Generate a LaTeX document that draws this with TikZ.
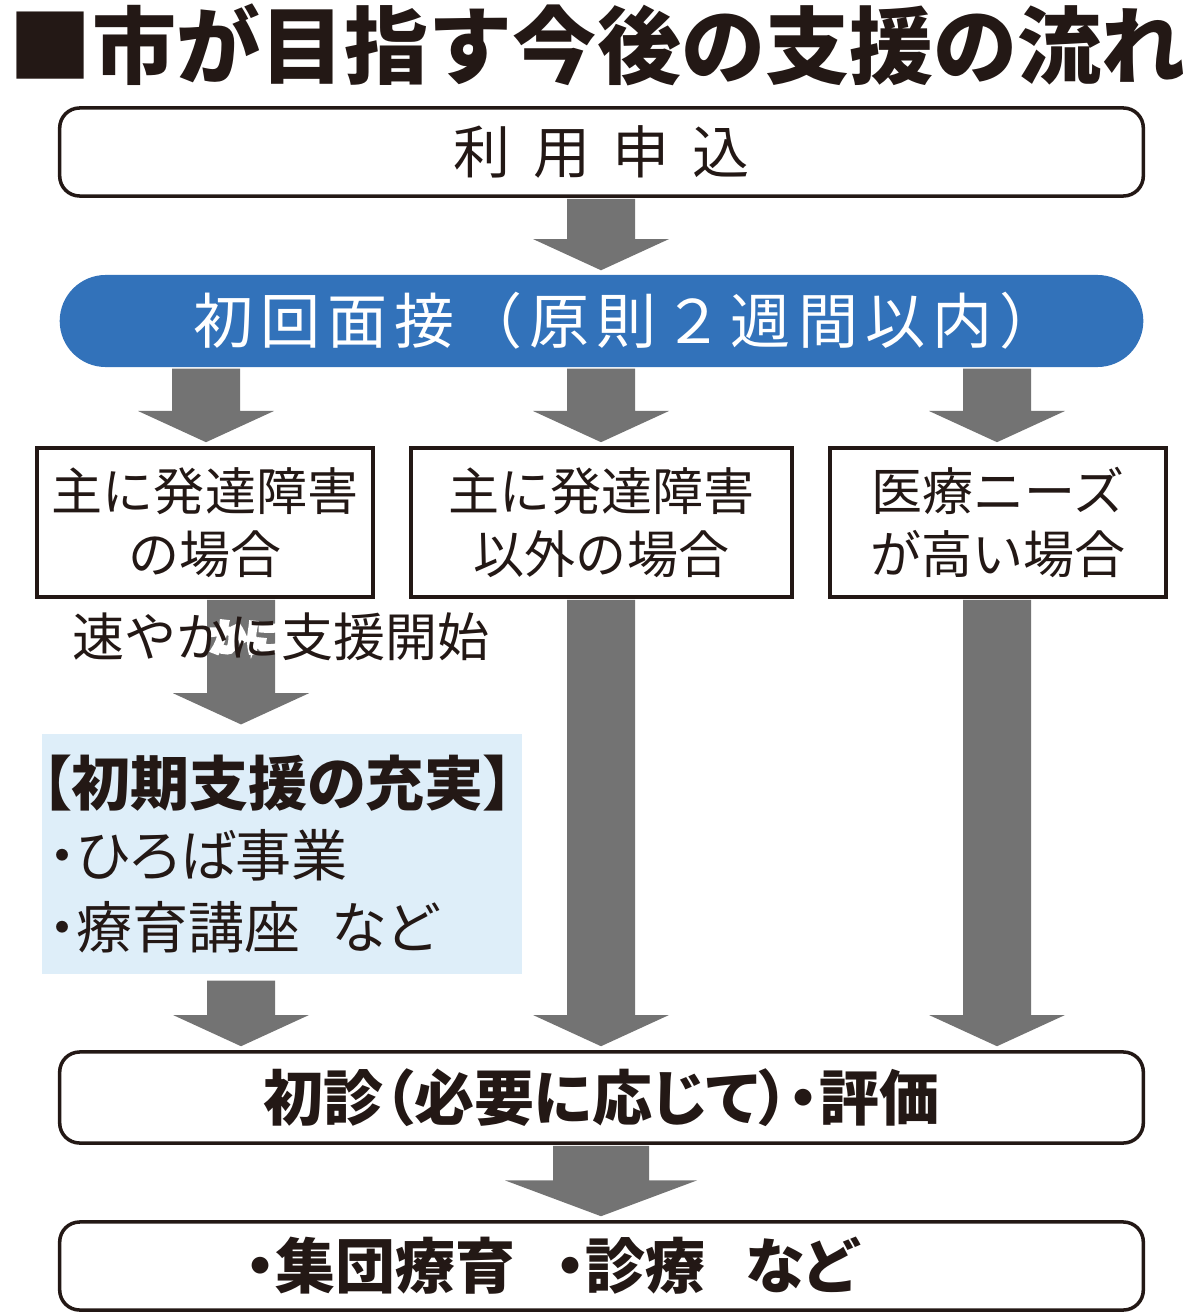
\documentclass[tikz,border=0pt]{standalone}
\usepackage{fontspec}
\setmainfont{Noto Sans CJK JP}
\usetikzlibrary{calc}

\definecolor{inkblack}{RGB}{35,24,21}
\definecolor{flowblue}{RGB}{50,114,186}
\definecolor{arrowgray}{RGB}{115,115,115}
\definecolor{paleblue}{RGB}{222,238,249}

\tikzset{
  roundbox/.style={draw=inkblack,line width=1pt,rounded corners=0.2cm,
    minimum width=10.83cm,minimum height=0.88cm,inner sep=0pt,text=inkblack},
  casebox/.style={draw=inkblack,line width=1pt,minimum width=3.36cm,
    minimum height=1.49cm,inner sep=0pt,align=center,text=inkblack,
    font=\fontsize{0.51cm}{0.63cm}\selectfont},
  quickfont/.style={inner sep=0pt,font=\fontsize{0.52cm}{0.6cm}\selectfont},
}

% fat gray arrow: [half shaft width]{column}{from node}{to node}
\newcommand{\flowarrow}[4][34]{%
  \pgfmathsetmacro{\headlen}{24+0.33*#1}
  \fill[arrowgray]
    ($(#2 |- #3.south)+(-#1,1)$) -- ($(#2 |- #3.south)+(#1,1)$)
    -- ($(#2 |- #4.north)+(#1,-\headlen)$) -- ($(#2 |- #4.north)+(2*#1,-\headlen)$)
    -- ($(#2 |- #4.north)+(0,-4)$)
    -- ($(#2 |- #4.north)+(-2*#1,-\headlen)$) -- ($(#2 |- #4.north)+(-#1,-\headlen)$)
    -- cycle;
}

\begin{document}
\begin{tikzpicture}[x=0.01cm,y=-0.01cm]
\useasboundingbox (0,0) rectangle (1200,1316);

\coordinate (colleft) at (206,0);
\coordinate (colmid) at (601,0);
\coordinate (colright) at (997,0);
\coordinate (colearly) at (241,0);

\node (title) [anchor=west,inner sep=0pt,text=inkblack,
  font=\fontsize{0.84cm}{1cm}\selectfont\bfseries] at (8,45) {■市が目指す今後の支援の流れ};

\node (apply) [roundbox,font=\fontsize{0.57cm}{0.7cm}\selectfont\addfontfeature{LetterSpace=40}]
  at (601.5,152) {利用申込};
\node (first) [fill=flowblue,rounded corners=0.46cm,minimum width=10.83cm,minimum height=0.92cm,
  inner sep=0pt,text=white,font=\fontsize{0.6cm}{0.7cm}\selectfont\addfontfeature{LetterSpace=12}]
  at (601.5,321) {\hspace*{0.5cm}初回面接（原則２週間以内）};

\node (caseA) [casebox] at (205,522.5) {主に発達障害\\の場合};
\node (caseB) [casebox,minimum width=3.81cm] at (601.5,522.5) {主に発達障害\\以外の場合};
\node (caseC) [casebox] at (998,522.5) {医療ニーズ\\が高い場合};

\node (early) [fill=paleblue,minimum width=4.8cm,minimum height=2.39cm,text width=4.8cm,
  inner sep=0pt,outer sep=0.06cm,align=left,text=inkblack,
  font=\fontsize{0.56cm}{0.71cm}\selectfont\addfontfeature{CharacterWidth=AlternateProportional}]
  at (282,854) {{\fontsize{0.59cm}{0.71cm}\selectfont\bfseries 【初期支援の充実】}\\
  \hspace*{0.07cm}・ひろば事業\\\hspace*{0.07cm}・療育講座\hspace{0.3cm}など};

\node (exam) [roundbox,minimum height=0.91cm,
  font=\fontsize{0.6cm}{0.7cm}\selectfont\bfseries\addfontfeature{CharacterWidth=AlternateProportional}]
  at (601.5,1097.5) {初診（必要に応じて）・評価};
\node (result) [roundbox,
  font=\fontsize{0.6cm}{0.7cm}\selectfont\bfseries\addfontfeature{CharacterWidth=AlternateProportional}]
  at (601.5,1266) {・集団療育\hspace{0.4cm}・診療\hspace{0.4cm}など\hspace*{1cm}};

\flowarrow{colmid}{apply}{first}
\flowarrow{colleft}{first}{caseA}
\flowarrow{colmid}{first}{caseB}
\flowarrow{colright}{first}{caseC}
\flowarrow{colearly}{caseA}{early}
\flowarrow{colearly}{early}{exam}
\flowarrow{colmid}{caseB}{exam}
\flowarrow{colright}{caseC}{exam}
\flowarrow[48]{colmid}{exam}{result}

% white halo under the label, then the label
\node (quickhalo) [quickfont,text=white,font=\addfontfeature{FakeBold=18}] at (281,637) {速やかに支援開始};
\node (quick) [quickfont,text=inkblack] at (281,637) {速やかに支援開始};
\end{tikzpicture}
\end{document}
